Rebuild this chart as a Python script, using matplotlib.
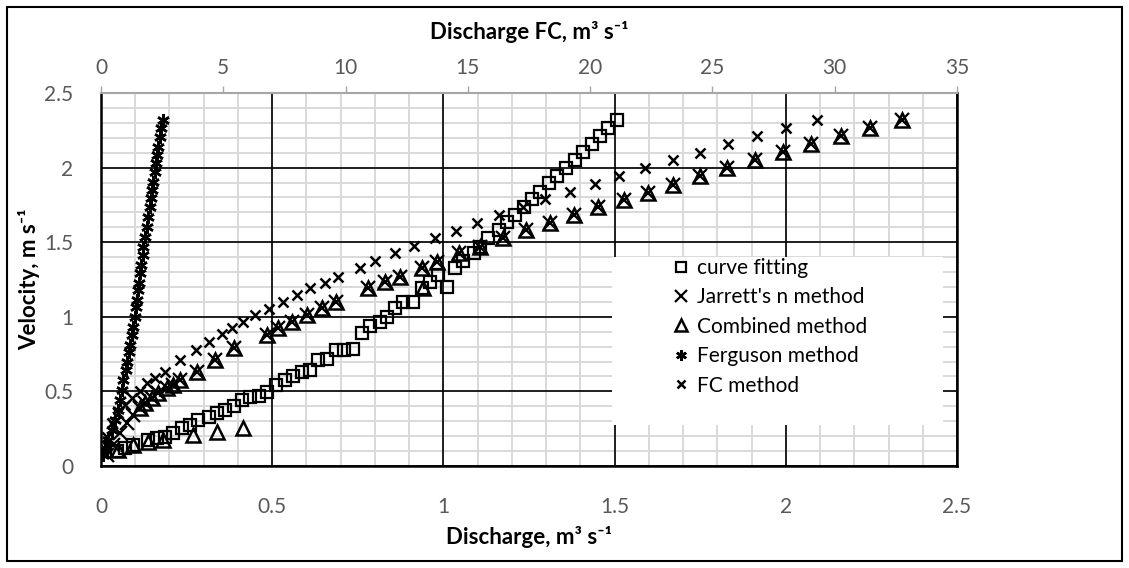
import matplotlib
matplotlib.use("Agg")
import matplotlib.pyplot as plt
from matplotlib.patches import Rectangle

plt.rcParams['font.family'] = ['Lato', 'DejaVu Sans']

# curve fitting: discharge (m3/s) and velocity (m/s)
q_curve = [0.047, 0.070, 0.094, 0.138, 0.163, 0.187, 0.211, 0.236, 0.260, 0.284,
           0.314, 0.338, 0.362, 0.387, 0.411, 0.435, 0.460, 0.484, 0.511, 0.537,
           0.562, 0.586, 0.611, 0.635, 0.661, 0.686, 0.710, 0.735, 0.761, 0.786,
           0.815, 0.834, 0.859, 0.883, 0.912, 0.937, 0.961, 0.985, 1.010, 1.034,
           1.058, 1.088, 1.107, 1.131, 1.161, 1.185, 1.209, 1.234, 1.258, 1.283,
           1.307, 1.331, 1.358, 1.385, 1.409, 1.433, 1.458, 1.482, 1.508]
v_curve = [0.100, 0.118, 0.141, 0.174, 0.185, 0.197, 0.219, 0.252, 0.275, 0.308,
           0.331, 0.353, 0.375, 0.402, 0.442, 0.465, 0.469, 0.498, 0.543, 0.576,
           0.603, 0.632, 0.643, 0.710, 0.715, 0.777, 0.777, 0.782, 0.889, 0.938,
           0.967, 1.001, 1.057, 1.097, 1.101, 1.191, 1.235, 1.280, 1.197, 1.329,
           1.376, 1.425, 1.470, 1.526, 1.582, 1.638, 1.682, 1.738, 1.787, 1.839,
           1.895, 1.944, 1.995, 2.051, 2.102, 2.156, 2.212, 2.268, 2.319]

# Jarrett's n method
q_jarrett = [0.017, 0.036, 0.055, 0.075, 0.094, 0.114, 0.129, 0.148, 0.167, 0.192,
             0.211, 0.231, 0.279, 0.333, 0.387, 0.484, 0.518, 0.557, 0.601, 0.645,
             0.686, 0.781, 0.829, 0.873, 0.937, 0.982, 1.047, 1.107, 1.175, 1.241,
             1.312, 1.380, 1.451, 1.526, 1.599, 1.670, 1.749, 1.827, 1.910, 1.993,
             2.075, 2.160, 2.246, 2.340]
v_jarrett = [0.074, 0.141, 0.219, 0.286, 0.342, 0.387, 0.420, 0.454, 0.487, 0.521,
             0.543, 0.576, 0.632, 0.710, 0.789, 0.878, 0.923, 0.967, 1.012, 1.057,
             1.101, 1.191, 1.235, 1.269, 1.325, 1.370, 1.425, 1.470, 1.526, 1.582,
             1.631, 1.682, 1.734, 1.783, 1.832, 1.883, 1.944, 1.995, 2.051, 2.107,
             2.156, 2.212, 2.268, 2.319]

# Combined method
q_combined = [0.050, 0.094, 0.138, 0.182, 0.270, 0.338, 0.414,
              0.114, 0.129, 0.148, 0.167, 0.192, 0.211, 0.231, 0.279, 0.333, 0.387,
              0.484, 0.518, 0.557, 0.601, 0.645, 0.686, 0.781, 0.829, 0.873, 0.940,
              0.937, 0.982, 1.047, 1.107, 1.175, 1.241, 1.312, 1.380, 1.451, 1.526,
              1.599, 1.670, 1.749, 1.827, 1.910, 1.993, 2.075, 2.160, 2.246, 2.340]
v_combined = [0.110, 0.140, 0.163, 0.174, 0.208, 0.230, 0.252,
              0.387, 0.420, 0.454, 0.487, 0.521, 0.543, 0.576, 0.632, 0.710, 0.789,
              0.878, 0.923, 0.967, 1.012, 1.057, 1.101, 1.191, 1.235, 1.269, 1.190,
              1.325, 1.370, 1.425, 1.470, 1.526, 1.582, 1.631, 1.682, 1.734, 1.783,
              1.832, 1.883, 1.944, 1.995, 2.051, 2.107, 2.156, 2.212, 2.268, 2.319]

# Ferguson method
q_ferguson = [0.007, 0.012, 0.021, 0.031, 0.041, 0.051, 0.055, 0.060, 0.065, 0.073,
              0.077, 0.083, 0.085, 0.090, 0.094, 0.099, 0.102, 0.104, 0.109, 0.112,
              0.114, 0.116, 0.122, 0.124, 0.129, 0.133, 0.138, 0.143, 0.146, 0.150,
              0.153, 0.158, 0.161, 0.163, 0.167, 0.172, 0.174, 0.180]
v_ferguson = [0.074, 0.118, 0.174, 0.241, 0.308, 0.375, 0.442, 0.509, 0.576, 0.643,
              0.699, 0.766, 0.811, 0.878, 0.934, 1.001, 1.068, 1.113, 1.180, 1.224,
              1.291, 1.347, 1.414, 1.470, 1.537, 1.604, 1.671, 1.738, 1.794, 1.850,
              1.906, 1.973, 2.029, 2.084, 2.140, 2.207, 2.263, 2.319]

# FC method (top axis, discharge FC)
q_fc = [0.10, 0.24, 0.43, 0.71, 0.98, 1.26, 1.60, 1.89, 2.21, 2.62,
        3.21, 3.89, 4.41, 4.93, 5.35, 5.82, 6.30, 6.85, 7.43, 8.01,
        8.55, 9.16, 9.70, 10.60, 11.20, 12.03, 12.81, 13.66, 14.52, 15.39,
        16.28, 17.25, 18.17, 19.18, 20.20, 21.20, 22.25, 23.38, 24.50, 25.65,
        26.81, 28.01, 29.26]
v_fc = [0.107, 0.197, 0.286, 0.353, 0.409, 0.454, 0.505, 0.554, 0.588, 0.632,
        0.710, 0.777, 0.830, 0.885, 0.923, 0.967, 1.012, 1.050, 1.097, 1.145,
        1.191, 1.229, 1.269, 1.325, 1.376, 1.425, 1.475, 1.526, 1.577, 1.631,
        1.682, 1.735, 1.787, 1.839, 1.890, 1.944, 1.995, 2.051, 2.100, 2.156,
        2.212, 2.268, 2.319]

bottom_ticks = [0, 0.5, 1, 1.5, 2, 2.5]
bottom_labels = ['0', '0.5', '1', '1.5', '2', '2.5']
minor_ticks = [i / 10 for i in range(26)]
top_ticks = [0, 5, 10, 15, 20, 25, 30, 35]

grey_txt = '#595959'
fs = 15

fig = plt.figure(figsize=(11.29, 5.68), dpi=100)
ax = fig.add_axes([101 / 1129, 1 - 466 / 568, 856 / 1129, 373 / 568])
ax.set_xlim(0, 2.5)
ax.set_ylim(0, 2.5)
ax.set_xticks(bottom_ticks)
ax.set_xticklabels(bottom_labels)
ax.set_yticks(bottom_ticks)
ax.set_yticklabels(bottom_labels)

# gridlines: light minor ones first, black major ones over them
for t in minor_ticks:
    ax.axvline(t, color='#d9d9d9', lw=1.4, zorder=0.5)
    ax.axhline(t, color='#d9d9d9', lw=1.4, zorder=0.5)
for t in bottom_ticks:
    ax.axvline(t, color='black', lw=1.2, zorder=0.6)
    ax.axhline(t, color='black', lw=1.2, zorder=0.6)

ax.tick_params(which='both', length=0, labelsize=fs, labelcolor=grey_txt)
ax.tick_params(axis='x', pad=22)
ax.tick_params(axis='y', pad=20)
for s in ['left', 'bottom', 'right']:
    ax.spines[s].set_linewidth(1.8)
    ax.spines[s].set_color('black')
ax.spines['top'].set_visible(False)

ax.plot(q_curve, v_curve, ls='none', marker='s', ms=9, mfc='none', mec='black', mew=1.6,
        label='curve fitting')
ax.plot(q_jarrett, v_jarrett, ls='none', marker='x', ms=10, mec='black', mew=1.6,
        label="Jarrett's n method")
ax.plot(q_combined, v_combined, ls='none', marker='^', ms=10, mfc='none', mec='black', mew=1.8,
        label='Combined method')
ax.plot(q_ferguson, v_ferguson, ls='none', marker=(6, 2, 0), ms=9, mec='black', mew=1.8,
        label='Ferguson method')

ax2 = ax.twiny()
ax2.set_xlim(0, 35)
ax2.set_xticks(top_ticks)
ax2.tick_params(axis='x', direction='out', length=5, width=1, color='#a6a6a6',
                labelsize=fs, labelcolor=grey_txt, pad=6)
for s in ['left', 'bottom', 'right']:
    ax2.spines[s].set_visible(False)
ax2.spines['top'].set_color('#a6a6a6')
ax2.spines['top'].set_linewidth(1.5)
ax2.plot(q_fc, v_fc, ls='none', marker='x', ms=7, mec='black', mew=1.8, label='FC method')

# legend on a white box
ax2.add_patch(Rectangle(((612 - 101) / 856, (466 - 425) / 373), 331 / 856, 168 / 373,
                        transform=ax2.transAxes, fc='white', ec='none', zorder=5))
h1, l1 = ax.get_legend_handles_labels()
h2, l2 = ax2.get_legend_handles_labels()
leg = ax2.legend(h1 + h2, l1 + l2, loc='upper left',
                 bbox_to_anchor=((672 - 101) / 856, (466 - 258) / 373),
                 frameon=False, fontsize=fs, handlelength=0.9, handletextpad=0.3,
                 labelspacing=0.45, borderaxespad=0, borderpad=0, markerscale=0.85)
leg.set_zorder(6)

fig.text(529 / 1129, 1 - 32 / 568, 'Discharge FC, m³ s⁻¹', ha='center', va='center',
         fontsize=16, fontweight='bold')
fig.text(529 / 1129, 1 - 537 / 568, 'Discharge, m³ s⁻¹', ha='center', va='center',
         fontsize=16, fontweight='bold')
fig.text(29 / 1129, 1 - 279 / 568, 'Velocity, m s⁻¹', ha='center', va='center',
         rotation=90, fontsize=16, fontweight='bold')

fig.add_artist(Rectangle((0.006, 0.012), 0.988, 0.976, transform=fig.transFigure,
                         fill=False, ec='black', lw=1.5))

fig.savefig('out.png', dpi=100)
